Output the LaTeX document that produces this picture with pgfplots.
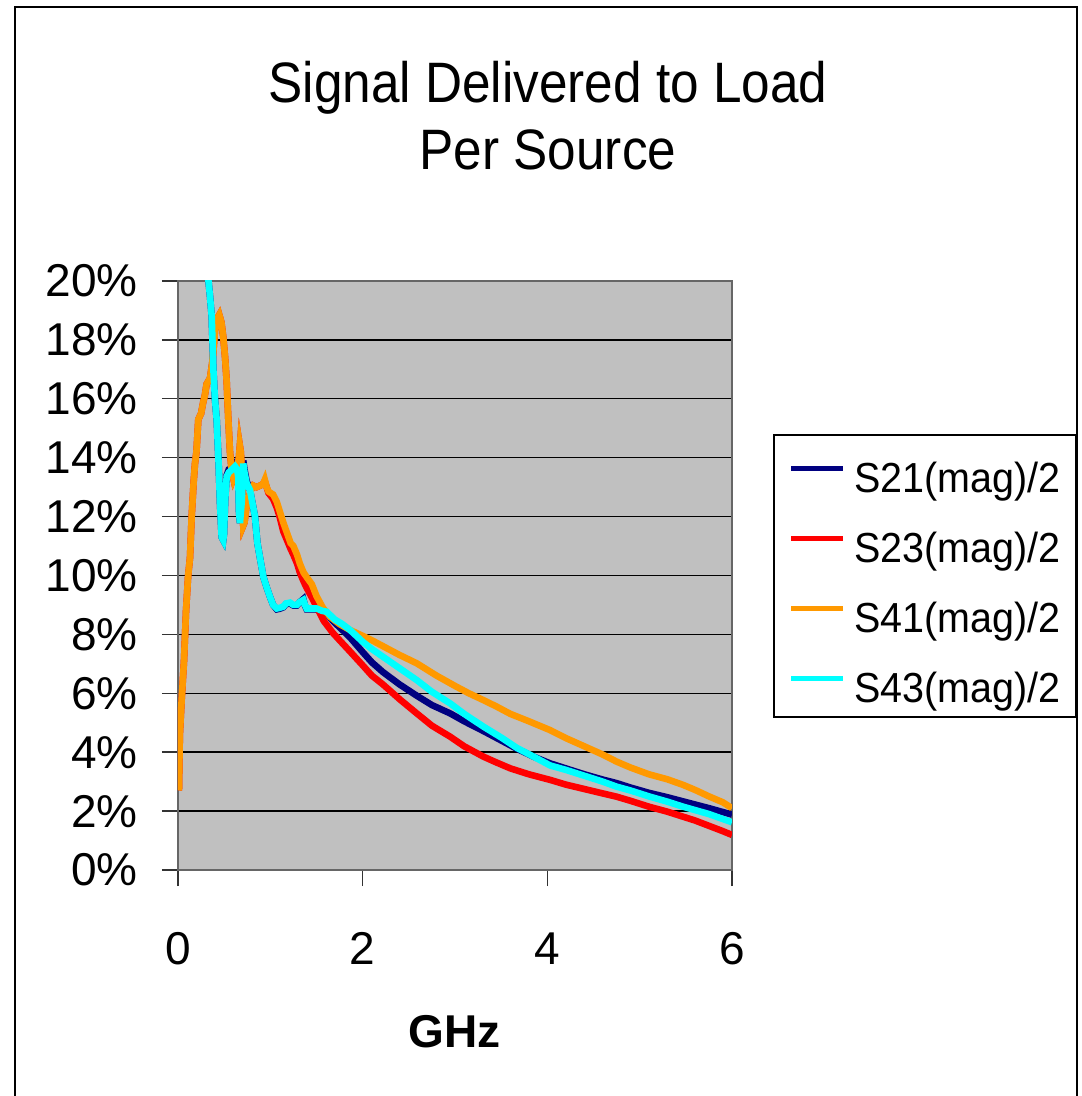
\documentclass[border=0pt]{standalone}
\usepackage{fontspec}
\setmainfont{Liberation Sans}
\newfontfamily\titlefont[FakeStretch=0.90]{Liberation Sans}
\newfontfamily\legfont[FakeStretch=0.94]{Liberation Sans}
\usepackage{pgfplots}
\pgfplotsset{compat=1.18}
\definecolor{navyS}{RGB}{0,0,128}
\definecolor{redS}{RGB}{255,0,0}
\definecolor{orangeS}{RGB}{255,153,0}
\definecolor{cyanS}{RGB}{0,255,255}
\definecolor{plotbg}{RGB}{192,192,192}

\begin{document}
\begin{tikzpicture}
\useasboundingbox (0,0) rectangle (540.5pt,548pt);
\fill[white] (0,0) rectangle (540.5pt,548pt);
\draw[black, line width=0.8pt] (7.5pt,-2pt) -- (7.5pt,544.5pt) -- (538.5pt,544.5pt) -- (538.5pt,-2pt);
\node[font=\titlefont\fontsize{28.5}{34}\selectfont, anchor=base, inner sep=0pt] at (274pt,496.5pt) {Signal Delivered to Load};
\node[font=\titlefont\fontsize{28.5}{34}\selectfont, anchor=base, inner sep=0pt] at (274pt,463pt) {Per Source};
\begin{axis}[
  at={(89pt,113pt)}, anchor=south west,
  width=277pt, height=294.5pt, scale only axis,
  xmin=0, xmax=6, ymin=0, ymax=20,
  xtick={0,2,4,6}, ytick={0,2,...,20},
  tick pos=left, tick align=outside, major tick length=8pt,
  every tick/.style={black!80, line width=0.7pt},
  ymajorgrids, grid style={black, line width=0.7pt},
  axis background/.style={fill=plotbg},
  axis line style={black!60, line width=1pt},
  /pgf/number format/assume math mode=true,
  yticklabel={\pgfmathprintnumber{\tick}\%},
  ticklabel style={font=\fontsize{23}{27}\selectfont},
  yticklabel style={anchor=east, inner sep=0pt, xshift=-12pt},
  xticklabel style={anchor=north, inner sep=0pt, yshift=-23pt},
  xlabel={GHz},
  xlabel style={font=\fontsize{23}{27}\selectfont\bfseries, at={(axis description cs:0.5,0)}, anchor=base, yshift=-88.5pt, inner sep=0pt},
  legend style={at={(1.074,0.740)}, anchor=north west, draw=black, line width=0.8pt, fill=white,
    font=\legfont\fontsize{21}{25}\selectfont, inner xsep=7.5pt, inner ysep=5pt, row sep=9pt,
    nodes={inner xsep=0pt, inner ysep=0pt, text height=24pt, text depth=2pt}},
  legend cell align=left,
  legend image code/.code={\draw[#1, line width=2.5pt] (0pt,1pt) -- (26pt,1pt); \path (30pt,0pt);},
]
\addplot[navyS, line width=3.3pt] coordinates {
(0.30,23) (0.33,20.0) (0.347,19.47) (0.365,18.8) (0.383,17.0) (0.40,16.0) (0.419,15.3) (0.44,13.8)
(0.455,12.45) (0.473,11.3) (0.49,11.2) (0.498,11.4) (0.51,12.5) (0.527,13.4) (0.55,13.6) (0.58,13.65)
(0.617,13.8) (0.64,13.7) (0.653,13.4) (0.66,12.2) (0.671,11.78) (0.69,12.5) (0.707,13.9) (0.72,13.6)
(0.744,13.2) (0.78,12.9) (0.81,12.4) (0.834,12.0) (0.86,11.1) (0.888,10.6) (0.924,9.96) (0.96,9.6)
(0.996,9.28) (1.03,9.0) (1.07,8.85) (1.10,8.87) (1.14,8.92) (1.17,9.03) (1.213,9.05) (1.25,8.98)
(1.286,8.98) (1.32,9.1) (1.357,9.2) (1.375,8.98) (1.393,8.85) (1.45,8.85) (1.50,8.85) (1.56,8.75)
(1.61,8.7) (1.68,8.45) (1.78,8.15) (1.863,7.9) (2.0,7.4) (2.1,7.05) (2.22,6.72) (2.4,6.3) (2.585,5.92)
(2.75,5.6) (2.946,5.32) (3.1,5.05) (3.307,4.72) (3.5,4.4) (3.668,4.12) (3.85,3.85) (4.03,3.62)
(4.2,3.45) (4.4,3.25) (4.6,3.07) (4.75,2.95) (4.9,2.8) (5.1,2.62) (5.3,2.47) (5.47,2.33) (5.75,2.1) (6.0,1.88)
};
\addlegendentry{S21(mag)/2}
\addplot[redS, line width=3.3pt] coordinates {
(0.01,2.7) (0.02,4.6) (0.04,5.8) (0.065,7.1) (0.087,8.8) (0.11,10.0) (0.13,10.6) (0.148,12.0)
(0.17,13.2) (0.184,13.8) (0.20,14.2) (0.22,15.3) (0.25,15.5) (0.274,15.9) (0.29,16.1) (0.31,16.5)
(0.347,16.7) (0.37,17.2) (0.383,17.6) (0.40,18.3) (0.42,18.7) (0.447,18.85) (0.47,18.6) (0.49,18.1)
(0.51,17.4) (0.527,16.6) (0.545,15.3) (0.563,14.2) (0.58,13.6) (0.60,13.3) (0.635,13.6) (0.66,14.0)
(0.67,14.4) (0.68,14.2) (0.69,13.6) (0.70,12.3) (0.707,11.7) (0.72,11.8) (0.74,12.3) (0.762,12.6)
(0.79,12.9) (0.816,13.05) (0.85,13.0) (0.888,13.05) (0.92,13.1) (0.94,13.2) (0.96,13.0) (0.98,12.8)
(1.03,12.6) (1.07,12.3) (1.10,12.0) (1.14,11.5) (1.18,11.2) (1.22,10.9) (1.25,10.7) (1.29,10.4)
(1.32,10.1) (1.36,9.8) (1.39,9.6) (1.45,9.25) (1.50,8.94) (1.58,8.45) (1.68,8.04) (1.78,7.7)
(1.863,7.42) (2.0,6.95) (2.1,6.6) (2.22,6.3) (2.4,5.8) (2.585,5.32) (2.75,4.9) (2.946,4.53) (3.1,4.2)
(3.307,3.85) (3.45,3.65) (3.6,3.45) (3.8,3.25) (4.03,3.06) (4.2,2.9) (4.4,2.75) (4.6,2.6) (4.75,2.49)
(4.9,2.35) (5.1,2.15) (5.3,1.98) (5.47,1.81) (5.6,1.68) (5.75,1.5) (5.9,1.32) (6.0,1.19)
};
\addlegendentry{S23(mag)/2}
\addplot[orangeS, line width=3.3pt] coordinates {
(0.01,2.7) (0.02,4.6) (0.04,5.8) (0.065,7.1) (0.087,8.8) (0.11,10.0) (0.13,10.6) (0.148,12.0)
(0.17,13.2) (0.184,13.8) (0.20,14.2) (0.22,15.3) (0.25,15.5) (0.274,15.9) (0.29,16.1) (0.31,16.5)
(0.347,16.7) (0.37,17.2) (0.383,17.6) (0.40,18.3) (0.42,18.7) (0.447,18.85) (0.47,18.6) (0.49,18.1)
(0.51,17.4) (0.527,16.6) (0.545,15.3) (0.563,14.2) (0.58,13.6) (0.60,13.3) (0.635,13.6) (0.66,14.0)
(0.67,14.4) (0.68,14.2) (0.69,13.6) (0.70,12.3) (0.707,11.7) (0.72,11.8) (0.74,12.3) (0.762,12.6)
(0.79,12.9) (0.816,13.05) (0.85,13.0) (0.888,13.05) (0.92,13.1) (0.94,13.25) (0.96,13.0) (0.98,12.85)
(1.03,12.75) (1.07,12.5) (1.10,12.2) (1.14,11.8) (1.18,11.45) (1.22,11.1) (1.25,11.0) (1.29,10.7)
(1.32,10.4) (1.36,10.1) (1.39,9.96) (1.45,9.7) (1.50,9.3) (1.57,8.9) (1.646,8.6) (1.75,8.35)
(1.863,8.15) (2.0,7.95) (2.1,7.8) (2.22,7.6) (2.4,7.3) (2.585,7.02) (2.8,6.6) (3.0,6.25) (3.15,6.0)
(3.307,5.77) (3.45,5.55) (3.6,5.3) (3.8,5.05) (4.03,4.75) (4.2,4.48) (4.4,4.2) (4.6,3.92) (4.75,3.68)
(4.9,3.48) (5.1,3.25) (5.3,3.08) (5.47,2.89) (5.6,2.72) (5.75,2.5) (5.9,2.3) (6.0,2.1)
};
\addlegendentry{S41(mag)/2}
\addplot[cyanS, line width=3.3pt] coordinates {
(0.30,23) (0.33,20.0) (0.347,19.47) (0.365,18.8) (0.383,17.0) (0.40,16.0) (0.419,15.3) (0.44,13.8)
(0.455,12.45) (0.473,11.3) (0.49,11.2) (0.498,11.4) (0.51,12.5) (0.527,13.35) (0.55,13.5) (0.58,13.58)
(0.617,13.7) (0.64,13.6) (0.653,13.35) (0.66,12.2) (0.671,11.78) (0.69,12.5) (0.707,13.8) (0.72,13.5)
(0.744,13.13) (0.78,12.9) (0.81,12.4) (0.834,12.0) (0.86,11.1) (0.888,10.6) (0.924,9.96) (0.96,9.6)
(0.996,9.28) (1.03,9.0) (1.07,8.88) (1.10,8.9) (1.14,8.94) (1.17,9.05) (1.213,9.08) (1.25,9.0)
(1.286,9.0) (1.32,9.1) (1.357,9.17) (1.375,9.0) (1.393,8.88) (1.45,8.88) (1.50,8.88) (1.56,8.8)
(1.61,8.77) (1.7,8.5) (1.78,8.35) (1.863,8.15) (2.0,7.75) (2.1,7.5) (2.22,7.24) (2.4,6.85) (2.585,6.45)
(2.75,6.05) (2.946,5.66) (3.1,5.3) (3.307,4.87) (3.5,4.5) (3.668,4.15) (3.85,3.85) (4.03,3.55)
(4.2,3.4) (4.4,3.2) (4.6,3.0) (4.75,2.83) (4.9,2.7) (5.1,2.5) (5.3,2.32) (5.47,2.15) (5.75,1.9) (6.0,1.62)
};
\addlegendentry{S43(mag)/2}
\end{axis}
\end{tikzpicture}
\end{document}
